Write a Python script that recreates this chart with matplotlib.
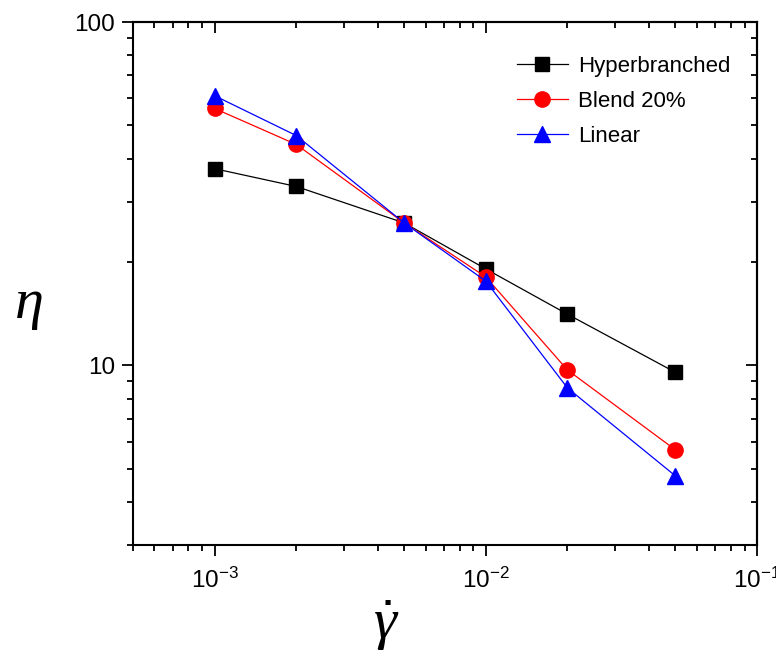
import matplotlib
matplotlib.use("Agg")
import matplotlib.pyplot as plt
from matplotlib.ticker import LogLocator, NullFormatter

plt.rcParams['font.family'] = ['Liberation Sans', 'DejaVu Sans']
plt.rcParams['mathtext.fontset'] = 'custom'
plt.rcParams['mathtext.rm'] = 'Liberation Sans'
plt.rcParams['mathtext.it'] = 'Liberation Serif:italic'

# shear rate
shear_rate = [1e-3, 2e-3, 5e-3, 1e-2, 2e-2, 5e-2]

# viscosity per sample
eta_hyper = [37.4, 33.2, 26.0, 19.1, 14.1, 9.55]
eta_blend = [56.0, 44.0, 26.0, 18.1, 9.7, 5.68]
eta_linear = [61.0, 46.7, 26.0, 17.6, 8.6, 4.77]

fig = plt.figure(figsize=(7.76, 6.55), dpi=100)
ax = fig.add_axes([0.1714, 0.1679, 0.8041, 0.7985])

ax.plot(shear_rate, eta_hyper, color='black', lw=0.9, marker='s', ms=10,
        label='Hyperbranched')
ax.plot(shear_rate, eta_blend, color='red', lw=0.9, marker='o', ms=11,
        label='Blend 20%')
ax.plot(shear_rate, eta_linear, color='blue', lw=0.9, marker='^', ms=12,
        label='Linear')

ax.set_xscale('log')
ax.set_yscale('log')
ax.set_xlim(5e-4, 0.1)
ax.set_ylim(3, 100)

ax.xaxis.set_minor_locator(LogLocator(base=10, subs=range(2, 10)))
ax.yaxis.set_minor_locator(LogLocator(base=10, subs=range(2, 10)))
ax.xaxis.set_minor_formatter(NullFormatter())
ax.yaxis.set_minor_formatter(NullFormatter())
ax.set_yticks([10, 100])
ax.set_yticklabels(['10', '100'])

for s in ax.spines.values():
    s.set_linewidth(1.5)

ax.tick_params(which='both', direction='out', width=1.3, labelsize=17.5,
               top=False, right=False)
ax.tick_params(which='major', length=8, pad=5)
ax.tick_params(which='minor', length=4)
ax.tick_params(axis='x', which='major', pad=8)

# inward ticks on top and right
ax_t = ax.secondary_xaxis('top')
ax_t.xaxis.set_minor_locator(LogLocator(base=10, subs=range(2, 10)))
ax_t.tick_params(which='both', direction='in', width=1.3, labeltop=False)
ax_t.tick_params(which='major', length=8)
ax_t.tick_params(which='minor', length=4)
ax_t.xaxis.set_minor_formatter(NullFormatter())
ax_t.set_xticklabels([])
ax_t.spines['top'].set_linewidth(1.5)

ax_r = ax.secondary_yaxis('right')
ax_r.yaxis.set_minor_locator(LogLocator(base=10, subs=range(2, 10)))
ax_r.tick_params(which='both', direction='in', width=1.3, labelright=False)
ax_r.tick_params(which='major', length=8)
ax_r.tick_params(which='minor', length=4)
ax_r.set_yticks([10, 100])
ax_r.yaxis.set_minor_formatter(NullFormatter())
ax_r.set_yticklabels([])
ax_r.spines['right'].set_linewidth(1.5)

fig.text(0.036, 0.535, r'$\eta$', fontsize=42, ha='center', va='center')
fig.text(0.497, 0.045, r'$\dot{\gamma}$', fontsize=42, ha='center', va='center')

ax.legend(loc='upper left', bbox_to_anchor=(0.615, 0.935), frameon=False,
          fontsize=16, handlelength=2.3, handletextpad=0.45, labelspacing=0.62,
          borderpad=0, borderaxespad=0)

fig.savefig('out.png', dpi=100)
